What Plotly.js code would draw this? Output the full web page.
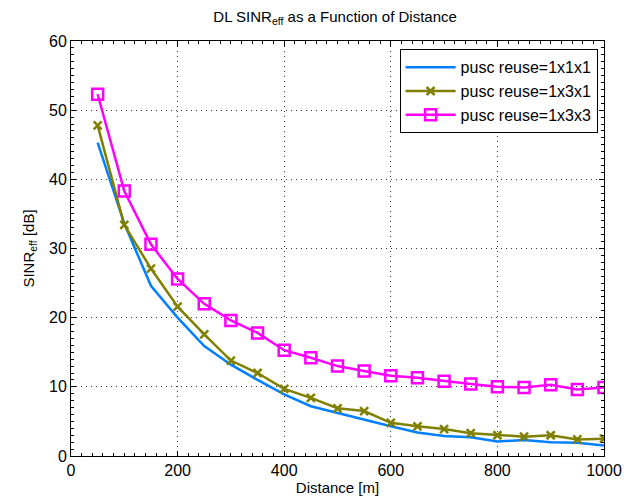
<!DOCTYPE html>
<html>
<head>
<meta charset="utf-8">
<script src="https://cdn.plot.ly/plotly-3.0.1.min.js"></script>
<style>html,body{margin:0;padding:0;background:#fff;}#chart{width:624px;height:500px;}</style>
</head>
<body>
<div id="chart"></div>
<script>
const distance = [50,100,150,200,250,300,350,400,450,500,550,600,650,700,750,800,850,900,950,1000];
const reuse111 = [45.3,33.6,24.6,20.0,15.9,13.2,11.0,8.9,7.2,6.2,5.2,4.3,3.4,2.9,2.7,2.1,2.3,2.0,1.9,1.5];
const reuse131 = [47.8,33.4,27.1,21.6,17.6,13.8,12.0,9.7,8.4,6.9,6.5,4.8,4.3,3.9,3.3,3.0,2.8,3.0,2.4,2.5];
const reuse133 = [52.3,38.3,30.6,25.6,22.0,19.6,17.8,15.3,14.2,13.0,12.3,11.6,11.3,10.8,10.4,10.0,9.9,10.3,9.6,9.9];
const seriesNames = ['pusc reuse=1x1x1','pusc reuse=1x3x1','pusc reuse=1x3x3'];

const traces = [
  {x: distance, y: reuse111, name: seriesNames[0], mode: 'lines',
   line: {color: '#0080ff', width: 2.5}},
  {x: distance, y: reuse131, name: seriesNames[1], mode: 'lines+markers',
   line: {color: '#808000', width: 2.5},
   marker: {symbol: 'x-thin-open', size: 8, color: '#808000', line: {color: '#808000', width: 2.5}}},
  {x: distance, y: reuse133, name: seriesNames[2], mode: 'lines+markers',
   line: {color: '#ff00ff', width: 2.5},
   marker: {symbol: 'square-open', size: 11, color: '#ff00ff', line: {color: '#ff00ff', width: 2.5}}}
];

const font = {family: 'Liberation Sans, Arial, sans-serif', color: '#000'};
const gridDash = '1px,4px';
const layout = {
  width: 624, height: 500,
  margin: {l: 71, r: 20, t: 41, b: 44},
  paper_bgcolor: '#fff', plot_bgcolor: '#fff',
  font: Object.assign({size: 15}, font),
  showlegend: true,
  title: {text: 'DL SINR<sub>eff</sub> as a Function of Distance', font: Object.assign({size: 15}, font),
          x: 0.537, xanchor: 'center', y: 0.978, yanchor: 'top'},
  xaxis: {
    range: [0, 1000], dtick: 200, tick0: 0,
    showline: true, linecolor: '#000', linewidth: 1, mirror: 'ticks',
    ticks: 'inside', ticklen: 5, tickcolor: '#000',
    showgrid: true, gridcolor: '#333', griddash: gridDash, gridwidth: 1,
    zeroline: false,
    tickfont: Object.assign({size: 16}, font),
    minor: {dtick: 20, ticks: 'inside', ticklen: 3, tickcolor: '#000', showgrid: false},
    title: {text: 'Distance [m]', font: Object.assign({size: 15}, font), standoff: 2}
  },
  yaxis: {
    range: [0, 60], dtick: 10, tick0: 0,
    showline: true, linecolor: '#000', linewidth: 1, mirror: 'ticks',
    ticks: 'inside', ticklen: 5, tickcolor: '#000',
    showgrid: true, gridcolor: '#333', griddash: gridDash, gridwidth: 1,
    zeroline: false,
    tickfont: Object.assign({size: 16}, font),
    minor: {dtick: 1, ticks: 'inside', ticklen: 3, tickcolor: '#000', showgrid: false},
    title: {text: 'SINR<sub>eff</sub> [dB]', font: Object.assign({size: 15}, font), standoff: 10}
  },
  legend: {
    x: 0.988, xanchor: 'right', y: 0.98, yanchor: 'top',
    bgcolor: '#fff', bordercolor: '#000', borderwidth: 1,
    font: Object.assign({size: 16}, font),
    tracegroupgap: 0, itemwidth: 50
  }
};

Plotly.newPlot('chart', traces, layout, {displayModeBar: false, staticPlot: true});
</script>
</body>
</html>
